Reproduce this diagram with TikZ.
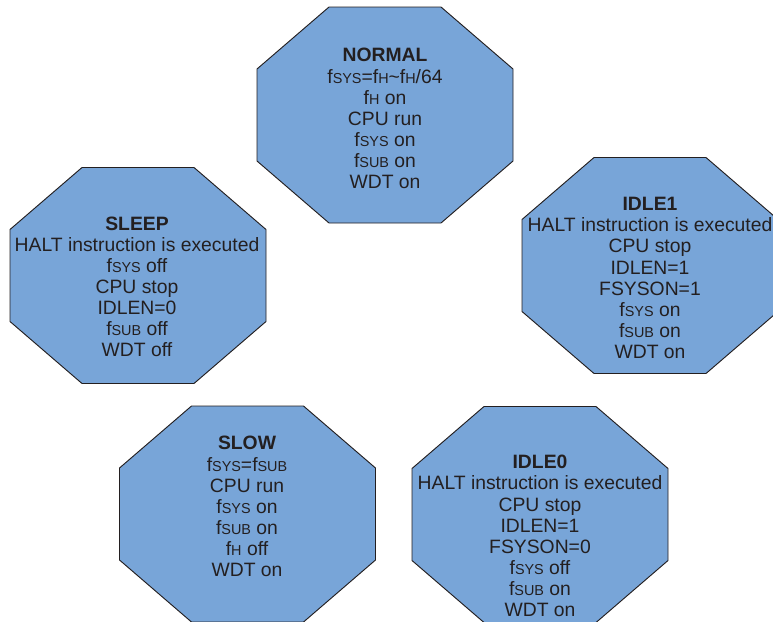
\documentclass[tikz,border=0pt]{standalone}
\usepackage{fontspec}
\setmainfont{Liberation Sans}

\definecolor{modeblue}{RGB}{120,165,216}
\definecolor{inkgray}{RGB}{35,31,32}
\newcommand{\sm}[1]{{\fontsize{10.8}{10.8}\selectfont #1}}

\tikzset{
  modefill/.style={draw=inkgray, line width=0.7pt, fill=modeblue},
  modetext/.style={align=center, text=inkgray, inner sep=0pt,
    font=\fontsize{14.5}{15.8}\selectfont},
  octagon/.pic={
    \draw[modefill] (-128,-46) -- (-56,-108) -- (56,-108) -- (128,-46)
      -- (128,46) -- (56,108) -- (-56,108) -- (-128,46) -- cycle;
  }
}

\begin{document}
\begin{tikzpicture}[x=0.75pt, y=-0.75pt]
  \useasboundingbox (0,0) rectangle (773,621);

  % Mode outlines
  \pic at (385,115) {octagon};
  \pic at (138,275.5) {octagon};
  \pic at (650,265.5) {octagon};
  \pic at (247.5,514) {octagon};
  \pic at (540,514.5) {octagon};

  % Mode texts
  \node[modetext] (normal) at (385,118.5) {\textbf{NORMAL}\\
    f\sm{SYS}=f\sm{H}\textasciitilde f\sm{H}/64\\ f\sm{H} on\\ CPU run\\
    f\sm{SYS} on\\ f\sm{SUB} on\\ WDT on};
  \node[modetext] (sleep) at (137,287) {\textbf{SLEEP}\\
    HALT instruction is executed\\ f\sm{SYS} off\\ CPU stop\\ IDLEN=0\\
    f\sm{SUB} off\\ WDT off};
  \node[modetext] (idle1) at (650,278) {\textbf{IDLE1}\\
    HALT instruction is executed\\ CPU stop\\ IDLEN=1\\ FSYSON=1\\
    f\sm{SYS} on\\ f\sm{SUB} on\\ WDT on};
  \node[modetext] (slow) at (247,506.5) {\textbf{SLOW}\\
    f\sm{SYS}=f\sm{SUB}\\ CPU run\\ f\sm{SYS} on\\ f\sm{SUB} on\\
    f\sm{H} off\\ WDT on};
  \node[modetext] (idle0) at (540,536) {\textbf{IDLE0}\\
    HALT instruction is executed\\ CPU stop\\ IDLEN=1\\ FSYSON=0\\
    f\sm{SYS} off\\ f\sm{SUB} on\\ WDT on};
\end{tikzpicture}
\end{document}
